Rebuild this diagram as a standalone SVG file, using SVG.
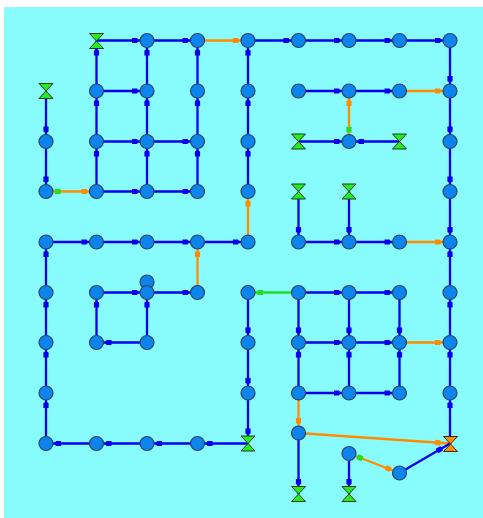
<svg xmlns="http://www.w3.org/2000/svg" xmlns:xlink="http://www.w3.org/1999/xlink" width="483" height="518" viewBox="0 0 483 518">
<style>
.e{stroke:#0000EE;stroke-width:2.3;fill:none;marker-end:url(#mb)}
.o{stroke:#FF8C00;stroke-width:2.3;fill:none;marker-end:url(#mo)}
.og{stroke:#FF8C00;stroke-width:2.3;fill:none;marker-end:url(#mo);marker-start:url(#ms)}
.g{stroke:#22DD22;stroke-width:2.3;fill:none;marker-end:url(#mg)}
.n circle{fill:#0C84EE;stroke:#2A4466;stroke-width:1.2}
.v{fill:#22EE22;stroke:#1E3A1E;stroke-width:1}
.vo{fill:#FF8C00;stroke:#3A2A1E;stroke-width:1}
</style>
<defs>
<marker id="mb" markerUnits="userSpaceOnUse" viewBox="-20 -5 20 10" markerWidth="20" markerHeight="10" refX="0" refY="0" orient="auto"><path d="M-15,-2.6 H-10 L-8.5,0 L-10,2.6 H-15 Z" fill="#0000EE" stroke="none"/></marker>
<marker id="mo" markerUnits="userSpaceOnUse" viewBox="-20 -5 20 10" markerWidth="20" markerHeight="10" refX="0" refY="0" orient="auto"><path d="M-15,-2.6 H-10 L-8.5,0 L-10,2.6 H-15 Z" fill="#FF8C00" stroke="none"/></marker>
<marker id="mg" markerUnits="userSpaceOnUse" viewBox="-20 -5 20 10" markerWidth="20" markerHeight="10" refX="0" refY="0" orient="auto"><path d="M-15,-2.6 H-10 L-8.5,0 L-10,2.6 H-15 Z" fill="#22DD22" stroke="none"/></marker>
<marker id="ms" markerUnits="userSpaceOnUse" viewBox="0 -5 20 10" markerWidth="20" markerHeight="10" refX="0" refY="0" orient="auto"><path d="M9,-2.6 H14.5 V2.6 H9 Z" fill="#22DD22" stroke="none"/></marker>
<path id="hg" d="M-7,-7.5 H7 L-7,7.5 H7 Z"/>
</defs>
<rect x="4" y="7" width="479" height="511" fill="#88FCFC"/>
<g id="connectors">
<path class="e" d="M96.5,40.5 H147"/>
<path class="e" d="M147,40.5 H197.5"/>
<path class="o" d="M197.5,40.5 H248"/>
<path class="e" d="M248,40.5 H298.5"/>
<path class="e" d="M298.5,40.5 H349"/>
<path class="e" d="M349,40.5 H399.5"/>
<path class="e" d="M399.5,40.5 H450"/>
<path class="e" d="M450,40.5 V91"/>
<path class="e" d="M450,91 V141.5"/>
<path class="e" d="M450,141.5 V191.5"/>
<path class="e" d="M450,191.5 V242"/>
<path class="e" d="M450,292.5 V242"/>
<path class="e" d="M450,342.5 V292.5"/>
<path class="e" d="M450,393 V342.5"/>
<path class="e" d="M450,443.5 V393"/>
<path class="e" d="M46,91 V141.5"/>
<path class="e" d="M46,141.5 V191.5"/>
<path class="og" d="M46,191.5 H96.5"/>
<path class="e" d="M96.5,191.5 V141.5"/>
<path class="e" d="M96.5,141.5 V91"/>
<path class="e" d="M96.5,91 V40.5"/>
<path class="e" d="M147,191.5 V141.5"/>
<path class="e" d="M147,141.5 V91"/>
<path class="e" d="M147,91 V40.5"/>
<path class="e" d="M197.5,191.5 V141.5"/>
<path class="e" d="M197.5,141.5 V91"/>
<path class="e" d="M197.5,91 V40.5"/>
<path class="e" d="M248,91 V40.5"/>
<path class="e" d="M248,141.5 V91"/>
<path class="e" d="M248,191.5 V141.5"/>
<path class="o" d="M248,242 V191.5"/>
<path class="e" d="M96.5,91 H147"/>
<path class="e" d="M96.5,141.5 H147"/>
<path class="e" d="M147,141.5 H197.5"/>
<path class="e" d="M96.5,191.5 H147"/>
<path class="e" d="M147,191.5 H197.5"/>
<path class="e" d="M46,242 H96.5"/>
<path class="e" d="M96.5,242 H147"/>
<path class="e" d="M147,242 H197.5"/>
<path class="e" d="M197.5,242 H248"/>
<path class="o" d="M197.5,292.5 V242"/>
<path class="e" d="M46,292.5 V242"/>
<path class="e" d="M46,342.5 V292.5"/>
<path class="e" d="M46,393 V342.5"/>
<path class="e" d="M46,443.5 V393"/>
<path class="e" d="M96.5,443.5 H46"/>
<path class="e" d="M147,443.5 H96.5"/>
<path class="e" d="M197.5,443.5 H147"/>
<path class="e" d="M248,443.5 H197.5"/>
<path class="e" d="M248,292.5 V342.5"/>
<path class="e" d="M248,342.5 V393"/>
<path class="e" d="M248,393 V443.5"/>
<path class="e" d="M96.5,292.5 H147"/>
<path class="e" d="M147,292.5 H197.5"/>
<path class="e" d="M96.5,342.5 V292.5"/>
<path class="e" d="M147,342.5 V292.5"/>
<path class="e" d="M147,342.5 H96.5"/>
<path class="e" d="M298.5,91 H349"/>
<path class="e" d="M349,91 H399.5"/>
<path class="o" d="M399.5,91 H450"/>
<path class="og" d="M349,141.5 V91"/>
<path class="e" d="M298.5,141.5 H349"/>
<path class="e" d="M399.5,141.5 H349"/>
<path class="e" d="M298.5,191.5 V242"/>
<path class="e" d="M349,191.5 V242"/>
<path class="e" d="M298.5,242 H349"/>
<path class="e" d="M349,242 H399.5"/>
<path class="o" d="M399.5,242 H450"/>
<path class="g" d="M298.5,292.5 H248"/>
<path class="e" d="M298.5,292.5 H349"/>
<path class="e" d="M349,292.5 H399.5"/>
<path class="e" d="M298.5,292.5 V342.5"/>
<path class="e" d="M349,292.5 V342.5"/>
<path class="e" d="M399.5,292.5 V342.5"/>
<path class="e" d="M298.5,342.5 H349"/>
<path class="e" d="M349,342.5 H399.5"/>
<path class="o" d="M399.5,342.5 H450"/>
<path class="e" d="M298.5,393 V342.5"/>
<path class="e" d="M349,393 V342.5"/>
<path class="e" d="M399.5,393 V342.5"/>
<path class="e" d="M298.5,393 H349"/>
<path class="e" d="M349,393 H399.5"/>
<path class="o" d="M298.5,393 V433"/>
<path class="e" d="M298.5,433 V494"/>
<path class="o" d="M298.5,433 L450,443.5"/>
<path class="e" d="M349,453.5 V494"/>
<path class="og" d="M349,453.5 L399.5,473"/>
<path class="e" d="M399.5,473 L450,443.5"/>
</g>
<g id="n_147_282" class="n"><circle cx="147" cy="282" r="7"/></g>
<g id="n_147_40" class="n"><circle cx="147" cy="40.5" r="7"/></g>
<g id="n_197_40" class="n"><circle cx="197.5" cy="40.5" r="7"/></g>
<g id="n_248_40" class="n"><circle cx="248" cy="40.5" r="7"/></g>
<g id="n_298_40" class="n"><circle cx="298.5" cy="40.5" r="7"/></g>
<g id="n_349_40" class="n"><circle cx="349" cy="40.5" r="7"/></g>
<g id="n_399_40" class="n"><circle cx="399.5" cy="40.5" r="7"/></g>
<g id="n_450_40" class="n"><circle cx="450" cy="40.5" r="7"/></g>
<g id="n_96_91" class="n"><circle cx="96.5" cy="91" r="7"/></g>
<g id="n_147_91" class="n"><circle cx="147" cy="91" r="7"/></g>
<g id="n_197_91" class="n"><circle cx="197.5" cy="91" r="7"/></g>
<g id="n_248_91" class="n"><circle cx="248" cy="91" r="7"/></g>
<g id="n_298_91" class="n"><circle cx="298.5" cy="91" r="7"/></g>
<g id="n_349_91" class="n"><circle cx="349" cy="91" r="7"/></g>
<g id="n_399_91" class="n"><circle cx="399.5" cy="91" r="7"/></g>
<g id="n_450_91" class="n"><circle cx="450" cy="91" r="7"/></g>
<g id="n_46_141" class="n"><circle cx="46" cy="141.5" r="7"/></g>
<g id="n_96_141" class="n"><circle cx="96.5" cy="141.5" r="7"/></g>
<g id="n_147_141" class="n"><circle cx="147" cy="141.5" r="7"/></g>
<g id="n_197_141" class="n"><circle cx="197.5" cy="141.5" r="7"/></g>
<g id="n_248_141" class="n"><circle cx="248" cy="141.5" r="7"/></g>
<g id="n_349_141" class="n"><circle cx="349" cy="141.5" r="7"/></g>
<g id="n_450_141" class="n"><circle cx="450" cy="141.5" r="7"/></g>
<g id="n_46_191" class="n"><circle cx="46" cy="191.5" r="7"/></g>
<g id="n_96_191" class="n"><circle cx="96.5" cy="191.5" r="7"/></g>
<g id="n_147_191" class="n"><circle cx="147" cy="191.5" r="7"/></g>
<g id="n_197_191" class="n"><circle cx="197.5" cy="191.5" r="7"/></g>
<g id="n_248_191" class="n"><circle cx="248" cy="191.5" r="7"/></g>
<g id="n_450_191" class="n"><circle cx="450" cy="191.5" r="7"/></g>
<g id="n_46_242" class="n"><circle cx="46" cy="242" r="7"/></g>
<g id="n_96_242" class="n"><circle cx="96.5" cy="242" r="7"/></g>
<g id="n_147_242" class="n"><circle cx="147" cy="242" r="7"/></g>
<g id="n_197_242" class="n"><circle cx="197.5" cy="242" r="7"/></g>
<g id="n_248_242" class="n"><circle cx="248" cy="242" r="7"/></g>
<g id="n_298_242" class="n"><circle cx="298.5" cy="242" r="7"/></g>
<g id="n_349_242" class="n"><circle cx="349" cy="242" r="7"/></g>
<g id="n_399_242" class="n"><circle cx="399.5" cy="242" r="7"/></g>
<g id="n_450_242" class="n"><circle cx="450" cy="242" r="7"/></g>
<g id="n_46_292" class="n"><circle cx="46" cy="292.5" r="7"/></g>
<g id="n_96_292" class="n"><circle cx="96.5" cy="292.5" r="7"/></g>
<g id="n_147_292" class="n"><circle cx="147" cy="292.5" r="7"/></g>
<g id="n_197_292" class="n"><circle cx="197.5" cy="292.5" r="7"/></g>
<g id="n_248_292" class="n"><circle cx="248" cy="292.5" r="7"/></g>
<g id="n_298_292" class="n"><circle cx="298.5" cy="292.5" r="7"/></g>
<g id="n_349_292" class="n"><circle cx="349" cy="292.5" r="7"/></g>
<g id="n_399_292" class="n"><circle cx="399.5" cy="292.5" r="7"/></g>
<g id="n_450_292" class="n"><circle cx="450" cy="292.5" r="7"/></g>
<g id="n_46_342" class="n"><circle cx="46" cy="342.5" r="7"/></g>
<g id="n_96_342" class="n"><circle cx="96.5" cy="342.5" r="7"/></g>
<g id="n_147_342" class="n"><circle cx="147" cy="342.5" r="7"/></g>
<g id="n_248_342" class="n"><circle cx="248" cy="342.5" r="7"/></g>
<g id="n_298_342" class="n"><circle cx="298.5" cy="342.5" r="7"/></g>
<g id="n_349_342" class="n"><circle cx="349" cy="342.5" r="7"/></g>
<g id="n_399_342" class="n"><circle cx="399.5" cy="342.5" r="7"/></g>
<g id="n_450_342" class="n"><circle cx="450" cy="342.5" r="7"/></g>
<g id="n_46_393" class="n"><circle cx="46" cy="393" r="7"/></g>
<g id="n_248_393" class="n"><circle cx="248" cy="393" r="7"/></g>
<g id="n_298_393" class="n"><circle cx="298.5" cy="393" r="7"/></g>
<g id="n_349_393" class="n"><circle cx="349" cy="393" r="7"/></g>
<g id="n_399_393" class="n"><circle cx="399.5" cy="393" r="7"/></g>
<g id="n_450_393" class="n"><circle cx="450" cy="393" r="7"/></g>
<g id="n_46_443" class="n"><circle cx="46" cy="443.5" r="7"/></g>
<g id="n_96_443" class="n"><circle cx="96.5" cy="443.5" r="7"/></g>
<g id="n_147_443" class="n"><circle cx="147" cy="443.5" r="7"/></g>
<g id="n_197_443" class="n"><circle cx="197.5" cy="443.5" r="7"/></g>
<g id="n_298_433" class="n"><circle cx="298.5" cy="433" r="7"/></g>
<g id="n_349_453" class="n"><circle cx="349" cy="453.5" r="7"/></g>
<g id="n_399_473" class="n"><circle cx="399.5" cy="473" r="7"/></g>
<g id="v_96_40" class="v"><use xlink:href="#hg" x="96.5" y="41"/></g>
<g id="v_46_91" class="v"><use xlink:href="#hg" x="46" y="91"/></g>
<g id="v_298_141" class="v"><use xlink:href="#hg" x="298.5" y="141.5"/></g>
<g id="v_399_141" class="v"><use xlink:href="#hg" x="399.5" y="141.5"/></g>
<g id="v_298_191" class="v"><use xlink:href="#hg" x="298.5" y="191.5"/></g>
<g id="v_349_191" class="v"><use xlink:href="#hg" x="349" y="191.5"/></g>
<g id="v_248_443" class="v"><use xlink:href="#hg" x="248" y="443.5"/></g>
<g id="v_450_443" class="vo"><use xlink:href="#hg" x="450.5" y="444"/></g>
<g id="v_298_494" class="v"><use xlink:href="#hg" x="298.5" y="494"/></g>
<g id="v_349_494" class="v"><use xlink:href="#hg" x="349" y="494"/></g>
</svg>
